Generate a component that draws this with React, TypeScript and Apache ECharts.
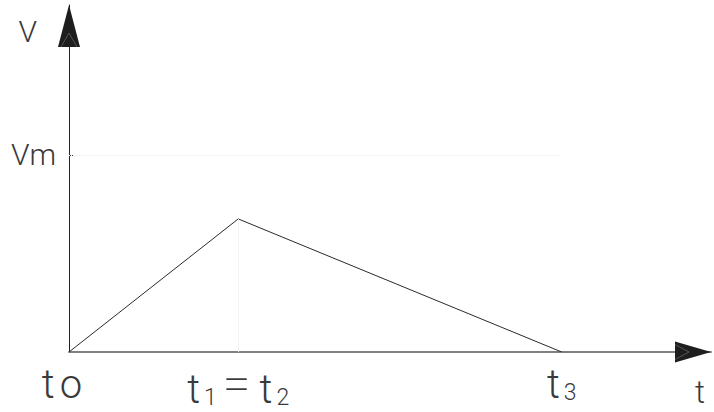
import React, { useEffect, useRef } from "react";
import * as echarts from "echarts";

// Time instants along the t axis and the speed reached at each of them.
const TIMES = [0, 3.4, 9.9];
const SPEEDS = [0, 0.675, 0];

// Labelled ticks on both axes.
const T_TICKS = [0, 3.4, 9.9];
const T_TICK_LABELS = ["to", "t1=t2", "t3"];
const V_TICKS = [1];
const V_TICK_LABELS = ["Vm"];

// Axis extents.
const T_MAX = 12.9;
const V_MAX = 1.76;

const FONT = "Roboto";
const INK = "#3a3a3a";

// Letters and '=' are drawn at full size, digits as small subscripts.
function richLabel(s: string): string {
  let out = "";
  let first = true;
  for (const ch of s) {
    if (/[0-9]/.test(ch)) out += `{s|${ch}}`;
    else if (ch === "=") out += `{e|=}`;
    else out += first ? `{m|${ch}}` : `{n|${ch}}`;
    first = false;
  }
  // the origin label sits a little left of its tick
  if (s === "to") out += "{pad|}";
  return out;
}

export default function App() {
  const ref = useRef<HTMLDivElement>(null);

  useEffect(() => {
    if (!ref.current) return;
    const chart = echarts.init(ref.current, null, { renderer: "svg" });

    const base = { fontFamily: FONT, fontWeight: 300, color: INK, verticalAlign: "bottom" };

    chart.setOption({
      animation: false,
      grid: { left: 69, right: 2, top: 5, bottom: 60, containLabel: false },
      xAxis: {
        type: "value",
        min: 0,
        max: T_MAX,
        name: "t",
        nameLocation: "end",
        nameGap: 0,
        nameTextStyle: {
          fontFamily: FONT,
          fontWeight: 300,
          fontSize: 31,
          lineHeight: 22,
          color: INK,
          align: "right",
          verticalAlign: "top",
          padding: [29, 6, 0, 0],
        },
        axisLine: { show: true, lineStyle: { color: "#808080", width: 2 } },
        axisTick: { show: false },
        splitLine: { show: false },
        axisLabel: {
          show: true,
          customValues: T_TICKS,
          margin: 12,
          formatter: (v: number) => {
            const i = T_TICKS.indexOf(v);
            return i >= 0 ? richLabel(T_TICK_LABELS[i]) : "";
          },
          rich: {
            m: { ...base, fontSize: 40, lineHeight: 40 },
            n: { ...base, fontSize: 40, lineHeight: 40, padding: [0, 0, 0, 5] },
            e: { ...base, fontWeight: 200, fontSize: 50, lineHeight: 45, padding: [0, 4, 0, 6] },
            s: { ...base, fontSize: 23, lineHeight: 31, padding: [0, 0, 0, 4] },
            pad: { width: 14 },
          },
        },
      },
      yAxis: {
        type: "value",
        min: 0,
        max: V_MAX,
        name: "V",
        nameLocation: "end",
        nameGap: -26,
        nameTextStyle: {
          fontFamily: FONT,
          fontWeight: 300,
          fontSize: 30,
          color: INK,
          align: "right",
          verticalAlign: "middle",
          padding: [0, 32, 0, 0],
        },
        axisLine: { show: true, lineStyle: { color: "#222", width: 1 } },
        axisTick: {
          show: true,
          inside: true,
          length: 4,
          customValues: V_TICKS,
          lineStyle: { color: "#333" },
        },
        splitLine: { show: false },
        axisLabel: {
          show: true,
          customValues: V_TICKS,
          margin: 13,
          fontFamily: FONT,
          fontWeight: 300,
          fontSize: 30,
          color: INK,
          formatter: (v: number) => {
            const i = V_TICKS.indexOf(v);
            return i >= 0 ? V_TICK_LABELS[i] : "";
          },
        },
      },
      series: [
        {
          type: "line",
          data: TIMES.map((t, i) => [t, SPEEDS[i]]),
          symbol: "none",
          lineStyle: { color: "#2a2a2a", width: 1 },
          markLine: {
            silent: true,
            symbol: "none",
            label: { show: false },
            lineStyle: { color: "#ebebeb", type: "dotted", width: 1 },
            data: [
              [
                { coord: [0, V_TICKS[0]] },
                { coord: [TIMES[2], V_TICKS[0]] },
              ],
              [
                { coord: [TIMES[1], 0] },
                { coord: [TIMES[1], SPEEDS[1]] },
              ],
            ],
          },
        },
      ],
    });

    // Filled arrowheads at the far ends of both axes.
    const [x0, y0] = chart.convertToPixel({ gridIndex: 0 }, [0, 0]) as number[];
    const [xEnd, yTop] = chart.convertToPixel({ gridIndex: 0 }, [T_MAX, V_MAX]) as number[];
    const xLen = 36, xHalf = 10.5;
    const yLen = 42, yHalf = 11;
    chart.setOption({
      graphic: [
        {
          type: "polygon",
          shape: { points: [[xEnd - xLen, y0 - xHalf], [xEnd, y0], [xEnd - xLen, y0 + xHalf]] },
          style: { fill: "#1e1e1e" },
          z: 10,
        },
        {
          type: "polyline",
          shape: { points: [[xEnd - xLen, y0 - xHalf + 3], [xEnd - xLen + 14, y0], [xEnd - xLen, y0 + xHalf - 3]] },
          style: { stroke: "#6a6a6a", lineWidth: 0.7, fill: null },
          z: 11,
        },
        {
          type: "polygon",
          shape: { points: [[x0 - yHalf, yTop + yLen], [x0, yTop], [x0 + yHalf, yTop + yLen]] },
          style: { fill: "#1e1e1e" },
          z: 10,
        },
        {
          type: "polyline",
          shape: { points: [[x0 - yHalf + 3, yTop + yLen], [x0, yTop + yLen - 14], [x0 + yHalf - 3, yTop + yLen]] },
          style: { stroke: "#6a6a6a", lineWidth: 0.7, fill: null },
          z: 11,
        },
      ],
    });

    return () => chart.dispose();
  }, []);

  return <div ref={ref} style={{ width: 714, height: 412, position: "absolute", left: 0, top: 0 }} />;
}
